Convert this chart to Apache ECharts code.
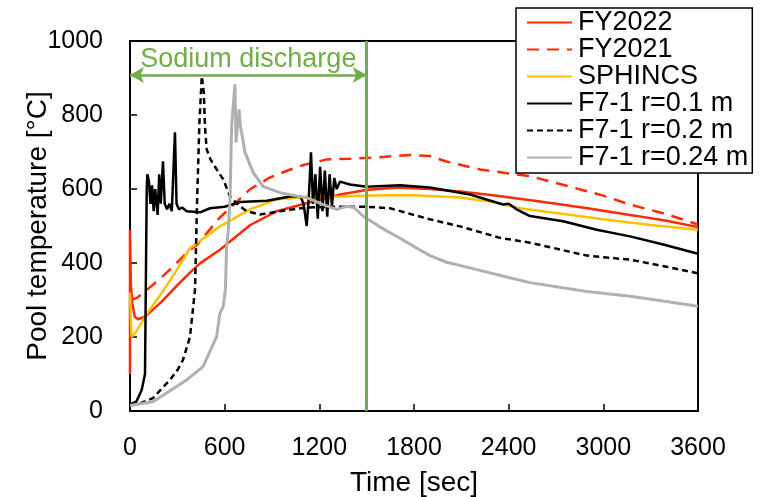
<!DOCTYPE html>
<html>
<head>
<meta charset="utf-8">
<script src="https://cdn.jsdelivr.net/npm/echarts@6/dist/echarts.min.js"></script>
<style>
  html, body { margin: 0; padding: 0; background: #fff; }
  #chart { width: 762px; height: 497px; }
</style>
</head>
<body>
<div id="chart"></div>
<script>
// [time s, temperature °C]
const fy2022 = [[0,100],[0,490],[5,345],[15,290],[30,255],[50,248],[95,255],[200,295],[300,340],[380,374],[444,399],[570,436],[634,458],[760,502],[930,540],[1141,564],[1331,585],[1508,598],[1700,604],[1901,600],[2092,593],[2300,583],[2599,566],[2900,548],[3200,528],[3400,514],[3600,497]]
const fy2021 = [[0,300],[42,305],[100,325],[170,350],[253,382],[380,436],[423,448],[570,523],[760,599],[887,631],[1000,650],[1100,665],[1248,680],[1400,682],[1585,686],[1775,692],[1901,689],[2000,675],[2218,653],[2400,642],[2535,635],[2800,605],[3000,582],[3169,558],[3400,532],[3600,504]]
const sphincs = [[0,320],[10,200],[40,215],[106,262],[200,318],[317,395],[380,440],[570,499],[760,545],[930,572],[1100,578],[1331,580],[1600,583],[1800,583],[2092,577],[2300,565],[2472,548],[2700,535],[3000,518],[3300,503],[3600,490]]
const r010 = [[0,18],[40,25],[74,57],[95,100],[106,600],[110,640],[120,620],[130,560],[140,610],[150,540],[160,600],[175,530],[185,640],[195,560],[209,675],[220,560],[235,545],[250,560],[265,540],[285,753],[295,560],[310,545],[330,550],[360,540],[444,537],[507,548],[600,552],[697,565],[868,568],[1014,580],[1080,580],[1100,560],[1120,500],[1135,590],[1147,699],[1160,560],[1175,640],[1190,520],[1205,660],[1220,540],[1235,650],[1250,525],[1265,640],[1280,555],[1295,630],[1310,600],[1331,620],[1394,612],[1500,606],[1711,610],[1901,604],[2155,585],[2364,558],[2400,560],[2450,545],[2535,527],[2745,513],[2958,490],[3169,472],[3380,450],[3600,425]]
const r020 = [[0,18],[60,20],[146,35],[253,84],[300,110],[336,138],[380,200],[412,328],[425,563],[440,780],[455,905],[461,910],[468,860],[475,770],[486,707],[510,680],[549,653],[591,626],[634,580],[690,555],[740,540],[824,531],[951,540],[1035,545],[1120,550],[1300,552],[1500,552],[1648,548],[1901,518],[2092,499],[2345,468],[2535,455],[2895,420],[3169,409],[3400,390],[3600,372]]
const r024 = [[0,15],[146,25],[359,84],[463,120],[549,201],[570,265],[591,282],[605,330],[612,445],[622,482],[634,572],[644,770],[665,883],[672,726],[691,815],[700,770],[729,699],[780,645],[843,607],[951,590],[1056,581],[1120,577],[1225,558],[1310,545],[1373,553],[1420,550],[1477,527],[1585,497],[1711,467],[1838,435],[1901,420],[2007,402],[2218,380],[2387,362],[2535,347],[2895,323],[3169,310],[3400,296],[3600,283]]
const names = ['FY2022', 'FY2021', 'SPHINCS', 'F7-1 r=0.1 m', 'F7-1 r=0.2 m', 'F7-1 r=0.24 m']
const dischargeEnd = 1500
const arrowLevel = 908

const font = 'Liberation Sans, Arial, sans-serif'
const green = '#70ad47'
const chart = echarts.init(document.getElementById('chart'))

function line (name, data, color, width, type) {
  return {
    name, type: 'line', data, symbol: 'none', showSymbol: false,
    lineStyle: { color, width, type }, itemStyle: { color }
  }
}

const series = [
  line(names[0], fy2022, '#ff2a00', 2.5, 'solid'),
  line(names[1], fy2021, '#ff2a00', 2.5, [12, 8]),
  line(names[2], sphincs, '#ffc000', 2.5, 'solid'),
  line(names[3], r010, '#000000', 2.5, 'solid'),
  line(names[4], r020, '#000000', 2.5, [6, 4]),
  line(names[5], r024, '#b0b0b0', 3, 'solid')
]

// sodium discharge markers
series[0].markLine = {
  silent: true,
  animation: false,
  data: [
    [{ coord: [dischargeEnd, 0], symbol: 'none' }, { coord: [dischargeEnd, 1000], symbol: 'none' }],
    [{ coord: [0, arrowLevel], symbol: 'arrow' }, { coord: [dischargeEnd, arrowLevel], symbol: 'arrow' }]
  ],
  symbolSize: [12, 14],
  lineStyle: { color: green, width: 2.5, type: 'solid' },
  label: { show: false }
}
series[0].markLine.data[0][0].lineStyle = { width: 3 }
series[0].markLine.data[1][0].label = {
  show: true, position: 'middle', formatter: 'Sodium discharge',
  color: green, fontSize: 27, fontFamily: font, distance: 2
}

chart.setOption({
  animation: false,
  backgroundColor: '#fff',
  textStyle: { fontFamily: font, color: '#000' },
  grid: {
    left: 130, right: 64, top: 41, bottom: 86,
    containLabel: false, outerBoundsMode: 'none',
    show: true, borderColor: '#000', borderWidth: 2
  },
  legend: {
    data: names,
    orient: 'vertical',
    left: 516, top: 8,
    padding: [1, 4, 2, 10],
    itemWidth: 45, itemHeight: 14, itemGap: 0,
    itemStyle: { opacity: 0 },
    backgroundColor: '#fff', borderColor: '#000', borderWidth: 1.5,
    textStyle: { fontSize: 27, fontFamily: font, color: '#000', lineHeight: 27, padding: [0, 0, 0, 1] }
  },
  xAxis: {
    type: 'value', min: 0, max: 3600, interval: 600,
    name: 'Time [sec]', nameLocation: 'middle', nameGap: 58, nameMoveOverlap: false,
    nameTextStyle: { fontSize: 28, fontFamily: font, color: '#000' },
    axisLine: { lineStyle: { color: '#000', width: 2 } },
    axisTick: { inside: true, length: 7, lineStyle: { color: '#000', width: 1.5 } },
    axisLabel: { fontSize: 25, fontFamily: font, color: '#000', margin: 25, formatter: v => String(v) },
    splitLine: { show: false }
  },
  yAxis: {
    type: 'value', min: 0, max: 1000, interval: 200,
    name: 'Pool temperature [°C]', nameLocation: 'middle', nameGap: 78, nameRotate: 90, nameMoveOverlap: false,
    nameTextStyle: { fontSize: 28, fontFamily: font, color: '#000' },
    axisLine: { lineStyle: { color: '#000', width: 2 } },
    axisTick: { inside: true, length: 7, lineStyle: { color: '#000', width: 1.5 } },
    axisLabel: { fontSize: 25, fontFamily: font, color: '#000', margin: 27, formatter: v => String(v) },
    splitLine: { show: false }
  },
  series
})
</script>
</body>
</html>
